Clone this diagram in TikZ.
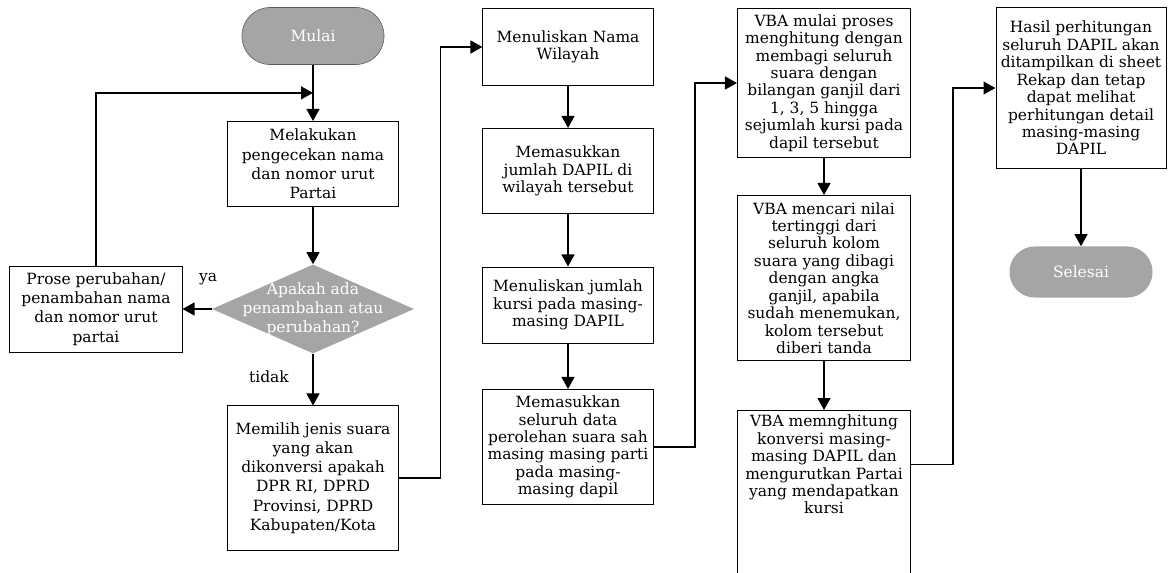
\documentclass[tikz,border=0pt]{standalone}
\usepackage{fontspec}
\setmainfont{DejaVu Serif}
\usetikzlibrary{calc,shapes.geometric,arrows.meta}

\definecolor{termgray}{RGB}{165,165,165}

\begin{document}
\begin{tikzpicture}[
  x = 0.025cm, y = -0.025cm,
  every node/.style = {font = \fontsize{11}{12.4}\selectfont, align = center},
  wide/.style = {font = \fontsize{11}{13.7}\selectfont},
  proc/.style = {draw, line width = 0.7pt, minimum width = 4.25cm, inner sep = 1pt},
  term/.style = {fill = termgray, text = white},
  decision/.style = {diamond, fill = termgray, minimum width = 5.05cm, minimum height = 2.225cm, inner sep = 0pt},
  arr/.style = {line width = 1.3pt, -{Triangle[length = 0.3cm, width = 0.32cm]}}
  ]
  \useasboundingbox (0,0) rectangle (1174,572);

  \node[term, draw = gray!70!black, minimum width = 3.55cm, minimum height = 1.425cm, rounded corners = 0.7cm] (mulai) at (313,36) {Mulai};
  \node[proc, wide, minimum height = 2.125cm] (cek) at (313,164) {Melakukan\\pengecekan nama\\dan nomor urut\\Partai};
  \node[decision] (tanya) at (313,309) {};
  \node[wide, text = white] (tanyateks) at (tanya) {Apakah ada\\penambahan atau\\perubahan?};
  \node[proc, wide, minimum width = 4.3cm, minimum height = 2.15cm] (ubah) at (96,309) {Prose perubahan/\\penambahan nama\\dan nomor urut\\partai};
  \node[proc, wide, minimum height = 3.6cm] (jenis) at (313,478) {Memilih jenis suara\\yang akan\\dikonversi apakah\\DPR RI, DPRD\\Provinsi, DPRD\\Kabupaten/Kota};
  \node[wide] (ya) at (208,279) {ya};
  \node[wide] (tidak) at (269,377) {tidak};

  \node[proc, minimum height = 1.925cm] (wilayah) at (568,47) {Menuliskan Nama\\Wilayah};
  \node[proc, minimum height = 2.125cm] (dapil) at (568,171) {Memasukkan\\jumlah DAPIL di\\wilayah tersebut};
  \node[proc, minimum height = 1.9cm] (kursi) at (568,305) {Menuliskan jumlah\\kursi pada masing-\\masing DAPIL};
  \node[proc, minimum height = 2.875cm] (suara) at (568,447) {Memasukkan\\seluruh data\\perolehan suara sah\\masing masing parti\\pada masing-\\masing dapil};

  \node[proc, minimum width = 4.325cm, minimum height = 3.725cm] (bagi) at (824,83) {VBA mulai proses\\menghitung dengan\\membagi seluruh\\suara dengan\\bilangan ganjil dari\\1, 3, 5 hingga\\sejumlah kursi pada\\dapil tersebut};
  \node[proc, minimum width = 4.325cm, minimum height = 4.125cm] (cari) at (824,278) {VBA mencari nilai\\tertinggi dari\\seluruh kolom\\suara yang dibagi\\dengan angka\\ganjil, apabila\\sudah menemukan,\\kolom tersebut\\diberi tanda};
  \node[proc, minimum width = 4.325cm, minimum height = 4.3cm, anchor = north] (konversi) at (824,410) {};
  \node[anchor = north] (konversiteks) at (konversi.north) {VBA memnghitung\\konversi masing-\\masing DAPIL dan\\mengurutkan Partai\\yang mendapatkan\\kursi};

  \node[proc, minimum height = 4cm] (hasil) at (1081,88) {Hasil perhitungan\\seluruh DAPIL akan\\ditampilkan di sheet\\Rekap dan tetap\\dapat melihat\\perhitungan detail\\masing-masing\\DAPIL};
  \node[term, minimum width = 3.575cm, minimum height = 1.275cm, rounded corners = 0.63cm] (selesai) at (1081,272) {Selesai};

  \coordinate (gabung) at ($(mulai.south)!0.5!(cek.north)$);
  \draw[arr] (mulai) -- (cek);
  \draw[arr] (ubah.north) |- (gabung);
  \draw[arr] (cek) -- (tanya);
  \draw[arr] (tanya) -- (ubah);
  \draw[arr] (tanya) -- (jenis);
  \draw[arr] (jenis.east) -| ($(jenis.east)!0.5!(wilayah.west)$) |- (wilayah.west);
  \draw[arr] (wilayah) -- (dapil);
  \draw[arr] (dapil) -- (kursi);
  \draw[arr] (kursi) -- (suara);
  \draw[arr] (suara.east) -| ($(suara.east)!0.5!(bagi.west)$) |- (bagi.west);
  \draw[arr] (bagi) -- (cari);
  \draw[arr] (cari) -- (konversi);
  \draw[arr] (konversiteks -| konversi.east) -| ($(konversi.east)!0.5!(hasil.west)$) |- (hasil.west);
  \draw[arr] (hasil) -- (selesai);
\end{tikzpicture}
\end{document}
